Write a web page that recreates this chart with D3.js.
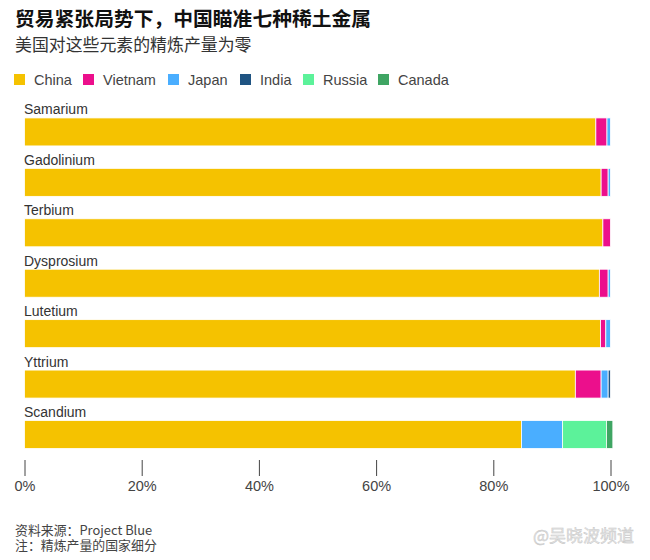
<!DOCTYPE html>
<html>
<head>
<meta charset="utf-8">
<script src="https://cdn.jsdelivr.net/npm/d3@7"></script>
<style>
  html, body { margin: 0; padding: 0; background: #fff; }
  text { font-family: "Liberation Sans", "Noto Sans CJK SC", sans-serif; fill: #2b2b2b; }
  .cjk { font-family: "Noto Sans CJK SC", sans-serif; }
</style>
</head>
<body>
<div id="chart"></div>
<script>
// Values (share of refined output, %)
const elements = ["Samarium", "Gadolinium", "Terbium", "Dysprosium", "Lutetium", "Yttrium", "Scandium"];
const countries = ["China", "Vietnam", "Japan", "India", "Russia", "Canada"];
const colors = ["#f5c200", "#ec0f8c", "#4aaeff", "#1f5482", "#5cf29a", "#3fa563"];
const china = [97.5, 98.4, 98.7, 98.1, 98.3, 94.0, 84.8];
const vietnam = [1.9, 1.2, 1.3, 1.5, 0.9, 4.4, 0];
const japan = [0.6, 0.4, 0, 0.4, 0.8, 1.2, 7.0];
const india = [0, 0, 0, 0, 0, 0.4, 0];
const russia = [0, 0, 0, 0, 0, 0, 7.5];
const canada = [0, 0, 0, 0, 0, 0, 1.1];
const ticks = [0, 20, 40, 60, 80, 100];
const legendX = [14, 83, 168, 240, 303, 378];

const width = 650, height = 560;

const svg = d3.select("#chart")
    .append("svg")
    .attr("width", width)
    .attr("height", height)
    .style("display", "block");

// Title block
svg.append("text")
    .attr("class", "cjk")
    .attr("x", 15).attr("y", 26)
    .attr("font-size", 19.8)
    .attr("font-weight", 700)
    .style("fill", "#111")
    .text("贸易紧张局势下，中国瞄准七种稀土金属");

svg.append("text")
    .attr("class", "cjk")
    .attr("x", 15).attr("y", 51)
    .attr("font-size", 16.9)
    .style("fill", "#333")
    .text("美国对这些元素的精炼产量为零");

// Legend
const color = d3.scaleOrdinal().domain(countries).range(colors);

countries.forEach((c, i) => {
    svg.append("rect")
        .attr("x", legendX[i])
        .attr("y", 74)
        .attr("width", 11)
        .attr("height", 11)
        .attr("fill", color(c));
    svg.append("text")
        .attr("x", legendX[i] + 20)
        .attr("y", 85)
        .attr("font-size", 14.5)
        .style("fill", "#444")
        .text(c);
});

// Scales
const x = d3.scaleLinear().domain([0, 100]).range([24.5, 610.5]);
const y = d3.scaleBand().domain(elements).range([104, 457]).paddingInner(0);
const barH = 28;

// Stack the series per element
const rows = elements.map((e, i) => ({
    element: e,
    China: china[i], Vietnam: vietnam[i], Japan: japan[i],
    India: india[i], Russia: russia[i], Canada: canada[i]
}));
const series = d3.stack().keys(countries)(rows);

svg.append("g")
    .selectAll("g")
    .data(series)
    .enter()
    .append("g")
    .attr("fill", d => color(d.key))
    .selectAll("rect")
    .data(d => d.filter(s => s[1] > s[0]))
    .enter()
    .append("rect")
    .attr("x", d => x(d[0]))
    .attr("y", d => y(d.data.element) + y.bandwidth() - barH - 8.5)
    .attr("width", d => x(d[1]) - x(d[0]))
    .attr("height", barH)
    .attr("stroke", "#fff")
    .attr("stroke-width", 0.8);

// Element labels
svg.selectAll(".element")
    .data(elements)
    .enter()
    .append("text")
    .attr("class", "element")
    .attr("x", 24)
    .attr("y", d => y(d) + y.bandwidth() - barH - 12)
    .attr("font-size", 14)
    .style("fill", "#333")
    .text(d => d);

// X axis
const axis = svg.append("g")
    .attr("transform", "translate(0,460)")
    .call(d3.axisBottom(x).tickValues(ticks).tickFormat(d => d + "%").tickSize(16).tickPadding(5));
axis.select(".domain").remove();
axis.selectAll("line").attr("stroke", "#444");
axis.selectAll("text")
    .attr("font-size", 14.5)
    .attr("font-family", "Liberation Sans")
    .style("fill", "#444");

// Footer
svg.append("text")
    .attr("class", "cjk")
    .attr("x", 15).attr("y", 535)
    .attr("font-size", 12.9)
    .style("fill", "#444")
    .text("资料来源：Project Blue");

svg.append("text")
    .attr("class", "cjk")
    .attr("x", 15).attr("y", 550)
    .attr("font-size", 12.9)
    .style("fill", "#444")
    .text("注：精炼产量的国家细分");

// Watermark
svg.append("text")
    .attr("class", "cjk")
    .attr("x", 533).attr("y", 542)
    .attr("font-size", 17)
    .style("fill", "#e4e4e4")
    .style("stroke", "#c4c4c4")
    .style("stroke-width", 0.4)
    .text("@吴晓波频道");
</script>
</body>
</html>
